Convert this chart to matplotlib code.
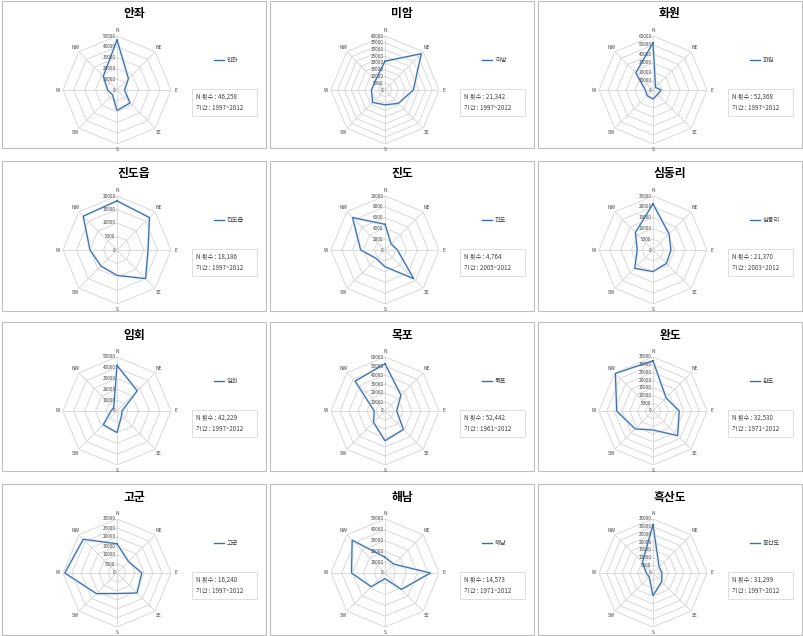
import numpy as np
import matplotlib
matplotlib.use("Agg")
import matplotlib.pyplot as plt
from matplotlib.patches import Rectangle
from matplotlib.lines import Line2D

plt.rcParams['font.family'] = ['Noto Sans CJK KR', 'DejaVu Sans']

# wind direction frequency per station (N, NE, E, SE, S, SW, W, NW)
directions = ['N', 'NE', 'E', 'SE', 'S', 'SW', 'W', 'NW']
stations = ['안좌', '미암', '화원', '진도읍', '진도', '심동리',
            '임회', '목포', '완도', '고군', '해남', '흑산도']
n_counts = ['46,258', '21,342', '52,368', '18,186', '4,764', '21,370',
            '42,229', '52,442', '32,530', '16,240', '14,573', '31,299']
periods = ['1997~2012', '1997~2012', '1997~2012', '1997~2012', '2005~2012', '2003~2012',
           '1997~2012', '1961~2012', '1971~2012', '1997~2012', '1971~2012', '1997~2012']
values = [
    [46258, 15000, 7000, 17000, 19000, 6000, 8700, 18000],
    [21342, 38000, 21000, 14000, 11000, 13000, 10000, 10000],
    [52368, 4000, 9000, 7000, 10000, 9000, 8500, 27000],
    [18186, 17000, 11500, 15000, 9400, 8400, 10000, 17700],
    [4764, 1600, 2300, 7500, 3100, 2250, 4500, 8500],
    [21370, 10500, 8300, 8800, 10000, 12000, 7300, 11500],
    [42229, 26500, 4600, 6000, 20000, 18000, 5500, 4300],
    [52442, 25000, 13000, 29000, 33000, 18000, 12000, 47000],
    [32530, 12000, 17000, 22600, 12300, 16400, 23500, 34500],
    [16240, 9000, 13800, 15700, 11400, 16200, 29000, 26500],
    [14573, 11600, 42000, 21500, 5200, 18000, 31000, 43000],
    [31299, 5600, 5800, 8000, 14700, 3500, 4300, 9700],
]
axis_max = [50000, 40000, 60000, 20000, 10000, 25000, 50000, 60000, 35000, 30000, 50000, 35000]
axis_step = [10000, 5000, 10000, 5000, 2000, 5000, 10000, 10000, 5000, 5000, 10000, 5000]

W, H = 804, 636
fig = plt.figure(figsize=(W / 100, H / 100), dpi=100)

# overlay axes in pixel units for panel frames, legends and info boxes
bg = fig.add_axes([0, 0, 1, 1])
bg.set_xlim(0, W)
bg.set_ylim(H, 0)
bg.set_axis_off()

col_x = [2, 270, 538]
row_y = [1, 161, 322, 484]
row_h = [147, 150, 149, 151]
pw = 264
R = 54          # radar radius in px
cx, cy = 115, 89  # radar centre inside panel

line_col = '#3f6fa8'
grid_col = '#d4d4d4'
text_col = '#404040'

theta = np.deg2rad(np.arange(8) * 45)
theta_c = np.append(theta, theta[0])

for i, name in enumerate(stations):
    x0 = col_x[i % 3]
    y0 = row_y[i // 3]
    h = row_h[i // 3]
    bg.add_patch(Rectangle((x0, y0), pw, h, fill=False, ec='#bfbfbf', lw=0.8))
    bg.text(x0 + 132, y0 + 13, name, ha='center', va='center',
            fontsize=8.5, fontweight='bold', color='black')

    # legend
    bg.add_line(Line2D([x0 + 212, x0 + 222], [y0 + 59, y0 + 59], color=line_col, lw=1))
    bg.text(x0 + 225, y0 + 59, name, ha='left', va='center', fontsize=4.5, color=text_col)

    # info box
    bg.add_patch(Rectangle((x0 + 190, y0 + 88), 65, 27, fill=False, ec='#d9d9d9', lw=0.6))
    bg.text(x0 + 194, y0 + 96, 'N 횟수 : ' + n_counts[i], ha='left', va='center',
            fontsize=4.5, color=text_col)
    bg.text(x0 + 194, y0 + 107, '기간 : ' + periods[i], ha='left', va='center',
            fontsize=4.5, color=text_col)

    # radar
    left = (x0 + cx - R) / W
    bottom = 1 - (y0 + cy + R) / H
    ax = fig.add_axes([left, bottom, 2 * R / W, 2 * R / H], projection='polar')
    ax.set_theta_zero_location('N')
    ax.set_theta_direction(-1)
    vmax = axis_max[i]
    ticks = np.arange(0, vmax + 1, axis_step[i])
    for r in ticks[1:]:
        ax.plot(theta_c, [r] * 9, color=grid_col, lw=0.6, zorder=1)
    for t in theta:
        ax.plot([t, t], [0, vmax], color=grid_col, lw=0.6, zorder=1)
    for r in ticks:
        ax.annotate(str(r), (0, r), xytext=(-1, 0), textcoords='offset points',
                    ha='right', va='center', fontsize=3.3, color=text_col)
    for t, d in zip(theta, directions):
        ax.text(t, vmax * 1.1, d, ha='center', va='center', fontsize=3.5, color=text_col)
    v = values[i] + values[i][:1]
    ax.plot(theta_c, v, color='#e3edf7', lw=2.2, zorder=2)
    ax.plot(theta_c, v, color=line_col, lw=0.9, zorder=3)
    ax.set_ylim(0, vmax)
    ax.set_axis_off()

fig.savefig('out.png', dpi=100)
